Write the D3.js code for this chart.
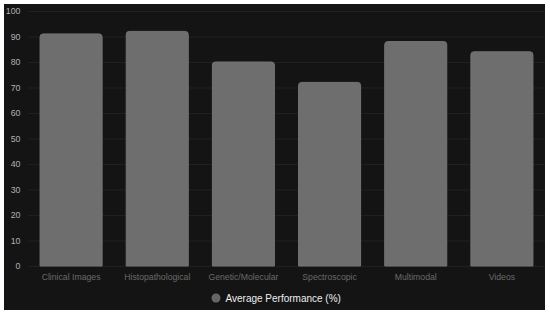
<!DOCTYPE html>
<html><head><meta charset="utf-8">
<script src="https://cdn.jsdelivr.net/npm/d3@7"></script>
<style>html,body{margin:0;padding:0;background:#fff;}svg{display:block;}</style>
</head><body>
<script>
const categories = ["Clinical Images","Histopathological","Genetic/Molecular","Spectroscopic","Multimodal","Videos"];
const values = [91, 92, 80, 72, 88, 84];
const yTicks = [0,10,20,30,40,50,60,70,80,90,100];
const seriesName = "Average Performance (%)";

const FONT = "'Liberation Sans', Arial, Helvetica, sans-serif";
const W = 550, H = 316;
const svg = d3.select("body").append("svg").attr("width", W).attr("height", H);
svg.append("rect").attr("x",4).attr("y",4).attr("width",541).attr("height",306).attr("fill","#141414");

const m = {left: 28, right: 545, top: 11, bottom: 266};
const x = d3.scaleBand().domain(categories).range([m.left, m.right]).paddingInner(0.28).paddingOuter(0.14);
const y = d3.scaleLinear().domain([0,100]).range([m.bottom, m.top]);

// gridlines
svg.append("g").selectAll("line").data(yTicks).join("line")
  .attr("x1", m.left).attr("x2", m.right)
  .attr("y1", d=>y(d)+0.5).attr("y2", d=>y(d)+0.5)
  .attr("stroke","#202020").attr("stroke-width",1);

// y axis
const ya = svg.append("g").attr("transform",`translate(${m.left-7.5},0)`)
  .call(d3.axisLeft(y).tickValues(yTicks).tickSize(0).tickPadding(0));
ya.select(".domain").remove();
ya.selectAll("text").attr("fill","#b0b0b0").style("font-family",FONT).style("font-size","8.8px");

// x axis
const xa = svg.append("g").attr("transform",`translate(0,${m.bottom+8})`)
  .call(d3.axisBottom(x).tickSize(0).tickPadding(0));
xa.select(".domain").remove();
xa.selectAll("text").attr("fill","#6a6a6a").attr("dy","0.71em").style("font-family",FONT).style("font-size","8.7px");

// bars with rounded top
const r = 3;
svg.append("g").selectAll("path").data(values).join("path")
  .attr("d",(d,i)=>{
    const x0 = x(categories[i]), w = x.bandwidth(), y0 = y(d), y1 = y(0);
    return `M${x0},${y1}V${y0+r}Q${x0},${y0} ${x0+r},${y0}H${x0+w-r}Q${x0+w},${y0} ${x0+w},${y0+r}V${y1}Z`;
  })
  .attr("fill","#6e6e6e").attr("stroke","#747474").attr("stroke-width",1);

// legend
const lg = svg.append("g");
lg.append("circle").attr("cx",216).attr("cy",298).attr("r",4.5).attr("fill","#666666");
lg.append("text").attr("x",225.5).attr("y",298).attr("dy","0.35em").text(seriesName)
  .attr("fill","#eeeeee").style("font-family",FONT).style("font-size","10px");
</script>
</body></html>
